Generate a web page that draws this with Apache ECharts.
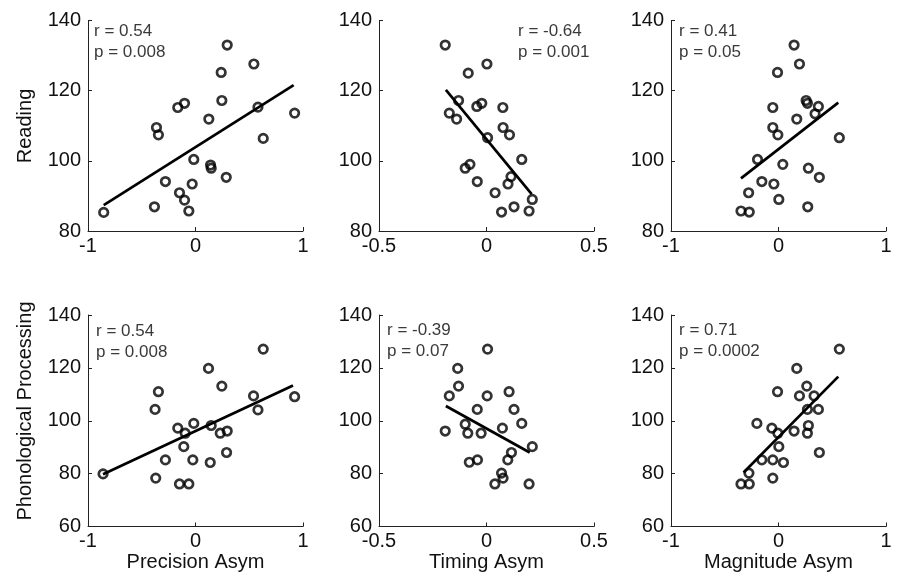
<!DOCTYPE html>
<html>
<head>
<meta charset="utf-8">
<script src="https://cdn.jsdelivr.net/npm/echarts@6/dist/echarts.min.js"></script>
<style>html,body{margin:0;padding:0;background:#fff}#c{width:902px;height:581px}</style>
</head>
<body>
<div id="c"></div>
<script>
// ---- Data ----
const precisionReading = [[-0.854,85.3],[-0.382,86.9],[-0.363,109.5],[-0.345,107.4],[-0.28,94.1],[-0.165,115.2],[-0.102,116.4],[-0.149,90.9],[-0.102,88.8],[-0.062,85.7],[-0.031,93.4],[-0.016,100.4],[0.124,111.9],[0.14,98.8],[0.146,97.9],[0.239,125.2],[0.245,117.2],[0.295,133.0],[0.286,95.3],[0.543,127.6],[0.581,115.3],[0.63,106.4],[0.922,113.6]];
const precisionReadingFit = [[-0.854,87.4],[0.913,121.6]];
const timingReading = [[-0.192,133.0],[-0.173,113.6],[-0.139,111.9],[-0.13,117.2],[-0.085,125.0],[-0.099,97.9],[-0.077,99.0],[-0.043,94.1],[-0.045,115.5],[-0.022,116.4],[0.002,127.6],[0.005,106.6],[0.04,90.9],[0.07,85.4],[0.076,115.2],[0.077,109.5],[0.107,107.4],[0.1,93.4],[0.114,95.5],[0.128,86.9],[0.164,100.4],[0.198,85.7],[0.213,89.0]];
const timingReadingFit = [[-0.189,120.2],[0.21,90.5]];
const magnitudeReading = [[-0.349,85.7],[-0.272,85.4],[-0.278,90.9],[-0.195,100.4],[-0.155,94.1],[-0.053,115.2],[-0.053,109.5],[-0.043,93.4],[-0.009,125.2],[-0.006,107.4],[0.003,89.0],[0.04,99.0],[0.145,133.0],[0.17,111.9],[0.195,127.6],[0.257,117.2],[0.269,116.4],[0.278,97.9],[0.272,86.9],[0.34,113.4],[0.371,115.5],[0.38,95.3],[0.566,106.6]];
const magnitudeReadingFit = [[-0.349,95.0],[0.556,116.6]];
const precisionPhon = [[-0.86,79.9],[-0.37,78.3],[-0.376,104.3],[-0.345,111.0],[-0.28,85.2],[-0.165,97.2],[-0.149,76.1],[-0.109,90.2],[-0.096,95.3],[-0.062,76.1],[-0.025,85.2],[-0.016,99.0],[0.121,119.8],[0.137,84.2],[0.146,98.2],[0.23,95.3],[0.245,113.1],[0.289,88.0],[0.295,96.1],[0.54,109.4],[0.581,104.1],[0.63,127.1],[0.922,109.1]];
const precisionPhonFit = [[-0.86,79.8],[0.907,113.3]];
const timingPhon = [[-0.192,96.1],[-0.173,109.4],[-0.134,119.8],[-0.13,113.1],[-0.099,98.7],[-0.087,95.3],[-0.08,84.3],[-0.042,85.2],[-0.043,104.3],[-0.025,95.3],[0.003,109.4],[0.005,127.1],[0.039,76.1],[0.07,80.2],[0.077,78.3],[0.074,97.2],[0.099,85.2],[0.105,111.0],[0.116,88.0],[0.128,104.3],[0.164,99.0],[0.198,76.1],[0.213,90.2]];
const timingPhonFit = [[-0.189,105.6],[0.201,88.0]];
const magnitudePhon = [[-0.349,76.1],[-0.272,76.1],[-0.275,80.2],[-0.155,85.2],[-0.201,99.0],[-0.053,78.3],[-0.053,85.2],[-0.062,97.2],[-0.009,111.0],[-0.006,95.3],[0.003,90.2],[0.046,84.2],[0.145,96.1],[0.17,119.8],[0.195,109.4],[0.263,113.1],[0.269,104.3],[0.278,98.2],[0.269,95.3],[0.331,109.4],[0.371,104.3],[0.38,88.0],[0.566,127.1]];
const magnitudePhonFit = [[-0.325,80.4],[0.556,116.7]];

const xRanges = [[-1,1,1],[-0.5,0.5,0.5],[-1,1,1]];
const yRangesTop = [80,140,20];
const yRangesBottom = [60,140,20];
const xTitles = ['Precision Asym','Timing Asym','Magnitude Asym'];
const yTitles = ['Reading','Phonological Processing'];
const statsText = [['r = 0.54','p = 0.008'],['r = -0.64','p = 0.001'],['r = 0.41','p = 0.05'],
                   ['r = 0.54','p = 0.008'],['r = -0.39','p = 0.07'],['r = 0.71','p = 0.0002']];

const scatterSets = [precisionReading,timingReading,magnitudeReading,precisionPhon,timingPhon,magnitudePhon];
const fitSets = [precisionReadingFit,timingReadingFit,magnitudeReadingFit,precisionPhonFit,timingPhonFit,magnitudePhonFit];

// ---- Layout ----
const FONT = '"Liberation Sans", Arial, sans-serif';
const colLeft = [88, 379, 671];
const colWidth = 215;
const rowTop = [20.5, 315];
const rowHeight = [210.5, 211.5];
const statPos = [[94,32],[518,32],[679,32],[96,332],[387,331],[679,331]];

const grids = [], xAxes = [], yAxes = [], series = [], graphics = [];
for (let r = 0; r < 2; r++) {
  for (let c = 0; c < 3; c++) {
    const i = r*3 + c;
    grids.push({left: colLeft[c], top: rowTop[r], width: colWidth, height: rowHeight[r]});
    const xr = xRanges[c];
    xAxes.push({
      type:'value', gridIndex:i, min:xr[0], max:xr[1], interval:xr[2],
      name: r===1 ? xTitles[c] : '', nameLocation:'middle', nameGap:25,
      nameTextStyle:{fontFamily:FONT, fontSize:20, color:'#111'},
      axisLine:{show:true, onZero:false, lineStyle:{color:'#222', width:1}},
      axisTick:{show:true, inside:true, length:4, lineStyle:{color:'#222'}},
      axisLabel:{fontFamily:FONT, fontSize:20, color:'#111', margin:5},
      splitLine:{show:false}
    });
    const yr = r===0 ? yRangesTop : yRangesBottom;
    yAxes.push({
      type:'value', gridIndex:i, min:yr[0], max:yr[1], interval:yr[2],
      axisLine:{show:true, onZero:false, lineStyle:{color:'#222', width:1}},
      axisTick:{show:true, inside:true, length:4, lineStyle:{color:'#222'}},
      axisLabel:{fontFamily:FONT, fontSize:20, color:'#111', margin:7},
      splitLine:{show:false}
    });
    series.push({
      type:'scatter', xAxisIndex:i, yAxisIndex:i, data:scatterSets[i],
      symbol:'circle', symbolSize:8.5,
      itemStyle:{color:'rgba(0,0,0,0)', borderColor:'#000', borderWidth:2.7},
      silent:true, z:3
    });
    series.push({
      type:'line', xAxisIndex:i, yAxisIndex:i, data:fitSets[i],
      symbol:'none', lineStyle:{color:'#000', width:2.7}, silent:true, z:2
    });
    graphics.push({type:'text', left:statPos[i][0], top:statPos[i][1]-11,
      style:{text:statsText[i][0]+'\n'+statsText[i][1], fontFamily:FONT, fontSize:17, lineHeight:21, fill:'#3a3a3a'}});
  }
}
graphics.push({type:'text', x:25, y:126, rotation:Math.PI/2,
  style:{text:yTitles[0], fontFamily:FONT, fontSize:20, fill:'#111', align:'center', verticalAlign:'middle'}});
graphics.push({type:'text', x:25, y:411, rotation:Math.PI/2,
  style:{text:yTitles[1], fontFamily:FONT, fontSize:20, fill:'#111', align:'center', verticalAlign:'middle'}});

const chart = echarts.init(document.getElementById('c'), null, {renderer:'canvas'});
chart.setOption({
  animation:false,
  backgroundColor:'#fff',
  grid:grids, xAxis:xAxes, yAxis:yAxes, series:series, graphic:graphics
});
</script>
</body>
</html>
